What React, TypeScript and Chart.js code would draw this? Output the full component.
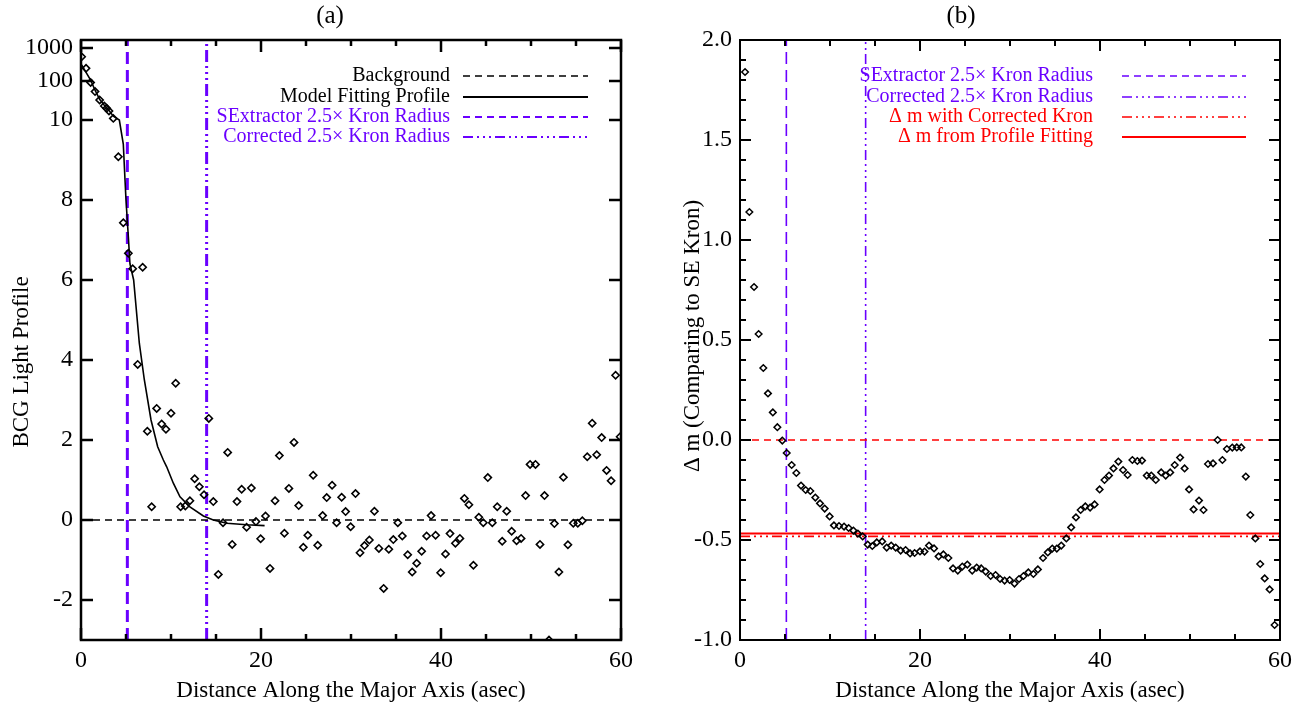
import React, { useEffect, useRef } from "react";
import { Chart, registerables } from "chart.js";

Chart.register(...registerables);

const SERIF = "'Liberation Serif', 'Times New Roman', Times, serif";
const PURPLE = "#6a00ff";
const RED = "#ff0000";
const BLACK = "#000000";

// ---------- Panel (a) data ----------
const LEFT_X = [
  0.07, 0.56, 1.07, 1.56, 2.07, 2.59, 2.85, 3.11, 3.59, 4.15, 4.7, 5.26, 5.74, 6.3, 6.85, 7.37, 7.85,
  8.41, 8.96, 9.44, 10.0, 10.52, 11.07, 11.59, 12.1, 12.63, 13.15, 13.67, 14.2, 14.7, 15.26, 15.78,
  16.3, 16.8, 17.33, 17.85, 18.4, 18.93, 19.44, 19.96, 20.5, 21.0, 21.56, 22.04, 22.6, 23.1, 23.67,
  24.19, 24.7, 25.2, 25.8, 26.3, 26.85, 27.3, 27.9, 28.4, 28.96, 29.4, 29.96, 30.5, 31.0, 31.5, 32.04,
  32.6, 33.1, 33.63, 34.2, 34.7, 35.2, 35.7, 36.3, 36.8, 37.3, 37.85, 38.4, 38.9, 39.4, 39.96, 40.5,
  41.0, 41.6, 42.1, 42.6, 43.1, 43.6, 44.2, 44.7, 45.2, 45.7, 46.25, 46.8, 47.3, 47.85, 48.4, 48.9,
  49.4, 49.9, 50.5, 51.0, 51.5, 52.0, 52.6, 53.1, 53.6, 54.1, 54.7, 55.2, 55.7, 56.25, 56.8, 57.3,
  57.85, 58.4, 58.9, 59.4, 59.9,
];
const LEFT_Y = [
  541, 242, 92, 53.5, 32.6, 22.9, 19.9, 17.0, 11.0, 9.08, 7.43, 6.67, 6.28, 3.89, 6.32, 2.22, 0.33,
  2.79, 2.4, 2.27, 2.67, 3.42, 0.33, 0.35, 0.48, 1.03, 0.83, 0.63, 2.54, 0.46, -1.36, -0.07,
  1.69, -0.61, 0.46, 0.77, -0.18, 0.8, -0.04, -0.47, 0.1, -1.21, 0.48, 1.61, -0.33, 0.79, 1.94,
  0.36, -0.68, -0.38, 1.12, -0.63, 0.11, 0.56, 0.87, -0.07, 0.57, 0.21, -0.17, 0.66, -0.82, -0.64, -0.5,
  0.22, -0.71, -1.71, -0.73, -0.49, -0.07, -0.4, -0.87, -1.3, -1.08, -0.78, -0.4, 0.11, -0.38, -1.32, -0.85,
  -0.34, -0.58, -0.46, 0.54, 0.38, -1.13, 0.07, -0.07, 1.06, -0.07, 0.33, -0.53, 0.22, -0.28, -0.52, -0.46,
  0.61, 1.39, 1.39, -0.61, 0.61, -3.0, -0.09, -1.3, 1.07, -0.62, -0.08, -0.08, -0.02, 1.58, 2.42, 1.63,
  2.06, 1.24, 0.98, 3.62, 2.08,
];
const MODEL_X = [
  0.07, 0.56, 1.07, 1.56, 2.07, 2.59, 3.11, 3.59, 4.26, 4.7, 4.89, 5.0, 5.26, 5.44, 5.85, 6.48, 7.04,
  7.78, 8.52, 9.15, 9.52, 10.26, 11.0, 12.1, 13.6, 14.7, 16.2, 18.4, 20.4,
];
const MODEL_Y = [
  305, 182, 107, 58, 34, 24, 17.5, 12.5, 10.0, 9.4, 8.5, 8.0, 7.08, 6.4, 6.0, 4.42, 3.5,
  2.5, 1.83, 1.5, 1.33, 0.92, 0.58, 0.33, 0.1, 0.0, -0.08, -0.12, -0.14,
];
const LEFT_Y_TICKS = [-2, 0, 2, 4, 6, 8, 10, 100, 1000];
const BACKGROUND_LEVEL = 0;

// ---------- Panel (b) data ----------
const RIGHT_X = [
  0.56, 1.04, 1.56, 2.07, 2.59, 3.11, 3.65, 4.15, 4.7, 5.19, 5.74, 6.26, 6.78, 7.3, 7.81, 8.37, 8.89,
  9.41, 9.96, 10.44, 11.0, 11.56, 12.07, 12.6, 13.1, 13.63, 14.19, 14.7, 15.2, 15.8, 16.3, 16.8, 17.3,
  17.85, 18.4, 18.9, 19.4, 20.0, 20.5, 21.0, 21.56, 22.07, 22.6, 23.15, 23.67, 24.2, 24.7, 25.26, 25.8,
  26.3, 26.8, 27.3, 27.85, 28.4, 28.9, 29.4, 29.96, 30.5, 31.0, 31.5, 32.04, 32.6, 33.1, 33.67, 34.2,
  34.7, 35.2, 35.7, 36.26, 36.8, 37.33, 37.85, 38.37, 38.9, 39.4, 39.96, 40.5, 41.0, 41.5, 42.04, 42.56,
  43.07, 43.6, 44.15, 44.67, 45.2, 45.7, 46.2, 46.8, 47.3, 47.8, 48.3, 48.9, 49.4, 49.9, 50.4, 51.0,
  51.5, 52.0, 52.56, 53.07, 53.6, 54.1, 54.7, 55.2, 55.7, 56.2, 56.7, 57.26, 57.8, 58.3, 58.85, 59.4,
];
const RIGHT_Y = [
  1.84, 1.14, 0.765, 0.53, 0.36, 0.233, 0.138, 0.064, -0.003, -0.065, -0.125, -0.165, -0.228, -0.25, -0.255, -0.288, -0.317,
  -0.343, -0.382, -0.427, -0.43, -0.433, -0.44, -0.453, -0.468, -0.482, -0.523, -0.53, -0.512, -0.507, -0.538, -0.528, -0.538,
  -0.553, -0.55, -0.567, -0.565, -0.557, -0.558, -0.528, -0.542, -0.582, -0.572, -0.59, -0.642, -0.653, -0.633, -0.623, -0.653,
  -0.638, -0.642, -0.658, -0.68, -0.675, -0.695, -0.703, -0.7, -0.718, -0.695, -0.68, -0.662, -0.67, -0.647, -0.59, -0.562,
  -0.543, -0.543, -0.528, -0.492, -0.437, -0.387, -0.35, -0.332, -0.338, -0.322, -0.247, -0.2, -0.178, -0.142, -0.108, -0.15,
  -0.175, -0.1, -0.105, -0.103, -0.178, -0.178, -0.2, -0.162, -0.178, -0.162, -0.125, -0.088, -0.142, -0.247, -0.347, -0.303,
  -0.35, -0.12, -0.117, 0.0, -0.1, -0.045, -0.038, -0.037, -0.037, -0.183, -0.375, -0.492, -0.62, -0.692, -0.747, -0.925,
];
const ZERO_LEVEL = 0.0;
const CORRECTED_KRON_DM = -0.482;
const PROFILE_FIT_DM = -0.468;

// Shared
const SE_KRON_X = 5.15;
const CORRECTED_KRON_X = 13.96;
const X_MIN = 0;
const X_MAX = 60;
const X_LABEL_TICKS = [0, 20, 40, 60];
const X_ALL_TICKS = [0, 5, 10, 15, 20, 25, 30, 35, 40, 45, 50, 55, 60];
const RIGHT_Y_MAJOR = [-1.0, -0.5, 0.0, 0.5, 1.0, 1.5, 2.0];
const RIGHT_Y_MINOR = [
  -0.9, -0.8, -0.7, -0.6, -0.4, -0.3, -0.2, -0.1, 0.1, 0.2, 0.3, 0.4, 0.6, 0.7, 0.8, 0.9,
  1.1, 1.2, 1.3, 1.4, 1.6, 1.7, 1.8, 1.9,
];

// Mixed axis for panel (a): linear up to 10, compressed log above
function toAxis(v: number): number {
  if (v <= 10) return v;
  if (v <= 100) return 10 + 0.975 * Math.log10(v / 10);
  return 10.975 + 0.825 * Math.log10(v / 100);
}

const DASH = [7, 5];
const DASH_DOT3 = [10, 4, 2, 4, 2, 4, 2, 4];

type LegendItem = { text: string; textColor: string; color: string; dash: number[]; width: number };

type Decor = {
  frameWidth: number;
  tickWidth: number;
  majorLen: number;
  minorLen: number;
  yMajor: number[];
  yMinor: number[];
  title: { text: string; x: number; y: number };
  xTitle: { text: string; x: number; y: number };
  yTitle: { text: string; x: number; y: number };
  legend: LegendItem[];
  legendTextRight: number;
  legendX0: number;
  legendX1: number;
  legendRows: number[];
};

function decorPlugin(d: Decor) {
  return {
    id: "decor",
    afterDraw(chart: any) {
      const { ctx, chartArea: a, scales } = chart;
      const xs = scales.x;
      const ys = scales.y;
      ctx.save();
      ctx.strokeStyle = BLACK;
      ctx.setLineDash([]);
      // ticks
      ctx.lineWidth = d.tickWidth;
      ctx.beginPath();
      for (const v of X_ALL_TICKS) {
        const px = xs.getPixelForValue(v);
        const len = X_LABEL_TICKS.includes(v) ? d.majorLen : d.minorLen;
        ctx.moveTo(px, a.bottom);
        ctx.lineTo(px, a.bottom - len);
        ctx.moveTo(px, a.top);
        ctx.lineTo(px, a.top + len);
      }
      for (const v of d.yMajor) {
        const py = ys.getPixelForValue(v);
        ctx.moveTo(a.left, py);
        ctx.lineTo(a.left + d.majorLen, py);
        ctx.moveTo(a.right, py);
        ctx.lineTo(a.right - d.majorLen, py);
      }
      for (const v of d.yMinor) {
        const py = ys.getPixelForValue(v);
        ctx.moveTo(a.left, py);
        ctx.lineTo(a.left + d.minorLen, py);
        ctx.moveTo(a.right, py);
        ctx.lineTo(a.right - d.minorLen, py);
      }
      ctx.stroke();
      // frame
      ctx.lineWidth = d.frameWidth;
      ctx.strokeRect(a.left, a.top, a.right - a.left, a.bottom - a.top);

      // titles
      ctx.fillStyle = BLACK;
      ctx.textAlign = "center";
      ctx.textBaseline = "middle";
      ctx.font = `25px ${SERIF}`;
      ctx.fillText(d.title.text, d.title.x, d.title.y);
      ctx.font = `23px ${SERIF}`;
      ctx.fillText(d.xTitle.text, d.xTitle.x, d.xTitle.y);
      ctx.save();
      ctx.translate(d.yTitle.x, d.yTitle.y);
      ctx.rotate(-Math.PI / 2);
      ctx.fillText(d.yTitle.text, 0, 0);
      ctx.restore();

      // legend
      ctx.font = `20px ${SERIF}`;
      ctx.textAlign = "right";
      d.legend.forEach((item, i) => {
        const y = d.legendRows[i];
        ctx.fillStyle = item.textColor;
        ctx.fillText(item.text, d.legendTextRight, y);
        ctx.strokeStyle = item.color;
        ctx.lineWidth = item.width;
        ctx.setLineDash(item.dash);
        ctx.beginPath();
        ctx.moveTo(d.legendX0, y);
        ctx.lineTo(d.legendX1, y);
        ctx.stroke();
      });
      ctx.restore();
    },
  };
}

function lineDataset(data: { x: number; y: number }[], color: string, width: number, dash: number[]) {
  return {
    data,
    showLine: true,
    borderColor: color,
    borderWidth: width,
    borderDash: dash,
    pointRadius: 0,
    pointHoverRadius: 0,
    fill: false,
    tension: 0,
    order: 2,
  };
}

function pointDataset(data: { x: number; y: number }[], radius: number, width: number) {
  return {
    data,
    showLine: false,
    pointStyle: "rectRot",
    pointRadius: radius,
    pointHoverRadius: radius,
    pointBorderWidth: width,
    borderColor: BLACK,
    backgroundColor: "rgba(0,0,0,0)",
    order: 1,
  };
}

function xScale() {
  return {
    type: "linear",
    min: X_MIN,
    max: X_MAX,
    afterBuildTicks: (s: any) => {
      s.ticks = X_LABEL_TICKS.map((v) => ({ value: v }));
    },
    afterFit: (s: any) => {
      s.height = 68;
    },
    grid: { display: false, drawTicks: false },
    border: { display: false },
    ticks: {
      autoSkip: false,
      maxRotation: 0,
      padding: 6,
      color: BLACK,
      font: { family: SERIF, size: 24 },
      callback: (v: any) => String(v),
    },
  };
}

function leftConfig(): any {
  const points = LEFT_X.map((x, i) => ({ x, y: toAxis(LEFT_Y[i]) }));
  const model = MODEL_X.map((x, i) => ({ x, y: toAxis(MODEL_Y[i]) }));
  return {
    type: "scatter",
    data: {
      datasets: [
        lineDataset([{ x: X_MIN, y: BACKGROUND_LEVEL }, { x: X_MAX, y: BACKGROUND_LEVEL }], BLACK, 1.6, DASH),
        lineDataset(model, BLACK, 1.6, []),
        lineDataset([{ x: SE_KRON_X, y: -3 }, { x: SE_KRON_X, y: 12 }], PURPLE, 3, [12, 6]),
        lineDataset([{ x: CORRECTED_KRON_X, y: -3 }, { x: CORRECTED_KRON_X, y: 12 }], PURPLE, 3, [12, 4, 2, 4, 2, 4, 2, 4]),
        pointDataset(points, 3.6, 1.6),
      ],
    },
    options: {
      responsive: false,
      animation: false,
      devicePixelRatio: 1,
      layout: { padding: { top: 40, right: 29, left: 0, bottom: 0 } },
      plugins: { legend: { display: false }, tooltip: { enabled: false }, title: { display: false } },
      scales: {
        x: xScale(),
        y: {
          type: "linear",
          min: -3,
          max: 12,
          afterBuildTicks: (s: any) => {
            s.ticks = LEFT_Y_TICKS.map((v) => ({ value: toAxis(v) }));
          },
          afterFit: (s: any) => {
            s.width = 81;
          },
          grid: { display: false, drawTicks: false },
          border: { display: false },
          ticks: {
            autoSkip: false,
            padding: 8,
            color: BLACK,
            font: { family: SERIF, size: 24 },
            callback: (_v: any, i: number) => String(LEFT_Y_TICKS[i]),
          },
        },
      },
    },
    plugins: [
      decorPlugin({
        frameWidth: 2.5,
        tickWidth: 2.5,
        majorLen: 12,
        minorLen: 6,
        yMajor: LEFT_Y_TICKS.map(toAxis),
        yMinor: [],
        title: { text: "(a)", x: 330, y: 16 },
        xTitle: { text: "Distance Along the Major Axis (asec)", x: 351, y: 691 },
        yTitle: { text: "BCG Light Profile", x: 22, y: 362 },
        legend: [
          { text: "Background", textColor: BLACK, color: BLACK, dash: DASH, width: 1.6 },
          { text: "Model Fitting Profile", textColor: BLACK, color: BLACK, dash: [], width: 2 },
          { text: "SExtractor 2.5\u00d7 Kron Radius", textColor: PURPLE, color: PURPLE, dash: DASH, width: 2 },
          { text: "Corrected 2.5\u00d7 Kron Radius", textColor: PURPLE, color: PURPLE, dash: DASH_DOT3, width: 2 },
        ],
        legendTextRight: 450,
        legendX0: 463,
        legendX1: 588,
        legendRows: [76, 97, 117, 137],
      }),
    ],
  };
}

function rightConfig(): any {
  const points = RIGHT_X.map((x, i) => ({ x, y: RIGHT_Y[i] }));
  return {
    type: "scatter",
    data: {
      datasets: [
        lineDataset([{ x: X_MIN, y: ZERO_LEVEL }, { x: X_MAX, y: ZERO_LEVEL }], RED, 1.6, DASH),
        lineDataset([{ x: X_MIN, y: PROFILE_FIT_DM }, { x: X_MAX, y: PROFILE_FIT_DM }], RED, 2, []),
        lineDataset([{ x: X_MIN, y: CORRECTED_KRON_DM }, { x: X_MAX, y: CORRECTED_KRON_DM }], RED, 1.6, DASH_DOT3),
        lineDataset([{ x: SE_KRON_X, y: -1 }, { x: SE_KRON_X, y: 2 }], PURPLE, 1.6, [12, 6]),
        lineDataset([{ x: CORRECTED_KRON_X, y: -1 }, { x: CORRECTED_KRON_X, y: 2 }], PURPLE, 1.6, DASH_DOT3),
        pointDataset(points, 3.3, 1.5),
      ],
    },
    options: {
      responsive: false,
      animation: false,
      devicePixelRatio: 1,
      layout: { padding: { top: 40, right: 21, left: 0, bottom: 0 } },
      plugins: { legend: { display: false }, tooltip: { enabled: false }, title: { display: false } },
      scales: {
        x: xScale(),
        y: {
          type: "linear",
          min: -1,
          max: 2,
          afterBuildTicks: (s: any) => {
            s.ticks = RIGHT_Y_MAJOR.map((v) => ({ value: v }));
          },
          afterFit: (s: any) => {
            s.width = 90;
          },
          grid: { display: false, drawTicks: false },
          border: { display: false },
          ticks: {
            autoSkip: false,
            padding: 8,
            color: BLACK,
            font: { family: SERIF, size: 24 },
            callback: (v: any) => Number(v).toFixed(1),
          },
        },
      },
    },
    plugins: [
      decorPlugin({
        frameWidth: 2,
        tickWidth: 2,
        majorLen: 11,
        minorLen: 6,
        yMajor: RIGHT_Y_MAJOR,
        yMinor: RIGHT_Y_MINOR,
        title: { text: "(b)", x: 311, y: 16 },
        xTitle: { text: "Distance Along the Major Axis (asec)", x: 360, y: 691 },
        yTitle: { text: "\u0394 m (Comparing to SE Kron)", x: 43, y: 336 },
        legend: [
          { text: "SExtractor 2.5\u00d7 Kron Radius", textColor: PURPLE, color: PURPLE, dash: DASH, width: 1.6 },
          { text: "Corrected 2.5\u00d7 Kron Radius", textColor: PURPLE, color: PURPLE, dash: DASH_DOT3, width: 1.6 },
          { text: "\u0394 m with Corrected Kron", textColor: RED, color: RED, dash: DASH_DOT3, width: 1.6 },
          { text: "\u0394 m from Profile Fitting", textColor: RED, color: RED, dash: [], width: 2 },
        ],
        legendTextRight: 443,
        legendX0: 472,
        legendX1: 596,
        legendRows: [76, 97, 117, 137],
      }),
    ],
  };
}

function Panel({ makeConfig, left, width }: { makeConfig: () => any; left: number; width: number }) {
  const ref = useRef<HTMLCanvasElement | null>(null);
  useEffect(() => {
    if (!ref.current) return;
    const chart = new Chart(ref.current, makeConfig());
    return () => chart.destroy();
  }, [makeConfig]);
  return (
    <canvas
      ref={ref}
      width={width}
      height={708}
      style={{ position: "absolute", left, top: 0, width, height: 708, display: "block" }}
    />
  );
}

export default function App() {
  return (
    <div style={{ position: "absolute", left: 0, top: 0, width: 1301, height: 708, background: "#ffffff" }}>
      <Panel makeConfig={leftConfig} left={0} width={650} />
      <Panel makeConfig={rightConfig} left={650} width={651} />
    </div>
  );
}
